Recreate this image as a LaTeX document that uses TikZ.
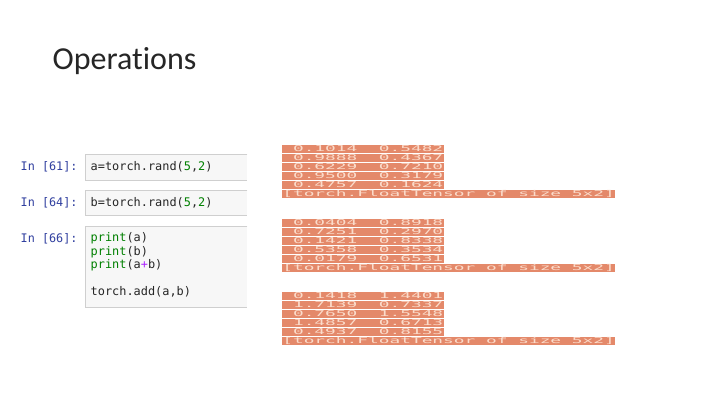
\documentclass[tikz,border=0pt]{standalone}
\usepackage{fontspec}
\usepackage{xcolor}
\usepackage{tikz}
\usetikzlibrary{positioning}
\setmainfont{Carlito}[Ligatures=NoCommon]
\newfontfamily\codefont{DejaVu Sans Mono}
\newfontfamily\outfont[FakeStretch=2.2]{DejaVu Sans Mono}
\definecolor{P1}{HTML}{303F9F}
\definecolor{K1}{HTML}{008000}
\definecolor{O1}{HTML}{AA22FF}
\definecolor{C1}{HTML}{F7F7F7}
\definecolor{C2}{HTML}{CFCFCF}
\definecolor{R1}{HTML}{E4896A}
\definecolor{R2}{HTML}{FBDCCB}

\begin{document}
\begin{tikzpicture}[
	x=1pt, y=-1pt,
	title/.style = {anchor=base west, inner sep=0, font=\fontsize{32}{38}\selectfont, text=black!85},
	prompt/.style = {anchor=west, inner sep=0, font=\codefont\fontsize{11.8}{13.5}\selectfont, text=P1},
	cell/.style = {anchor=north west, rectangle, fill=C1, inner sep=0, minimum width=162},
	code/.style = {inner sep=0, align=left, font=\codefont\fontsize{11.9}{13.5}\selectfont, text=black!85},
	outrow/.style = {anchor=north west, rectangle, fill=R1, text=R2, inner xsep=0.6, inner ysep=0,
	  text height=6.9, text depth=1.5, minimum height=8.4, font=\outfont\fontsize{8.1}{9}\selectfont}
]
  \useasboundingbox[fill=white] (0,0) rectangle (720,405);

  % Title
  \node[title] at (52.5,69.5) (head) {Operations};

  % Input cells
  \node[cell, minimum height=26] at (85,154) (c61) {};
  \node[cell, minimum height=25] at (85,190) (c64) {};
  \node[cell, minimum height=81] at (85,226) (c66) {};
  \draw[C2] (c61.north east) -- (c61.north west) -- (c61.south west) -- (c61.south east);
  \draw[C2] (c64.north east) -- (c64.north west) -- (c64.south west) -- (c64.south east);
  \draw[C2] (c66.north east) -- (c66.north west) -- (c66.south west) -- (c66.south east);

  \node[prompt] at (20.5,167) (p61) {In [61]:};
  \node[prompt] at (20.5,203) (p64) {In [64]:};
  \node[prompt] at (20.5,239) (p66) {In [66]:};

  \node[code, anchor=west] at (90.5,167) (s61) {a=torch.rand(\textcolor{K1}{5},\textcolor{K1}{2})};
  \node[code, anchor=west] at (90.5,203) (s64) {b=torch.rand(\textcolor{K1}{5},\textcolor{K1}{2})};
  \node[code, anchor=north west] at (90.5,232.5) (s66) {\textcolor{K1}{print}(a)\\
    \textcolor{K1}{print}(b)\\
    \textcolor{K1}{print}(a\textcolor{O1}{+}b)\\
    \mbox{}\\
    torch.add(a,b)};

  % Outputs
  \node[outrow] at (281.5,144.7) (a1) {~0.1014~~0.5482};
  \node[outrow] at (281.5,153.7) (a2) {~0.9888~~0.4367};
  \node[outrow] at (281.5,162.7) (a3) {~0.6229~~0.7210};
  \node[outrow] at (281.5,171.7) (a4) {~0.9500~~0.3179};
  \node[outrow] at (281.5,180.7) (a5) {~0.4757~~0.1624};
  \node[outrow] at (281.5,189.7) (a6) {[torch.FloatTensor of size 5x2]};

  \node[outrow] at (281.5,218.3) (b1) {~0.0404~~0.8918};
  \node[outrow] at (281.5,227.3) (b2) {~0.7251~~0.2970};
  \node[outrow] at (281.5,236.3) (b3) {~0.1421~~0.8338};
  \node[outrow] at (281.5,245.3) (b4) {~0.5358~~0.3534};
  \node[outrow] at (281.5,254.3) (b5) {~0.0179~~0.6531};
  \node[outrow] at (281.5,263.3) (b6) {[torch.FloatTensor of size 5x2]};

  \node[outrow] at (281.5,291.7) (s1) {~0.1418~~1.4401};
  \node[outrow] at (281.5,300.7) (s2) {~1.7139~~0.7337};
  \node[outrow] at (281.5,309.7) (s3) {~0.7650~~1.5548};
  \node[outrow] at (281.5,318.7) (s4) {~1.4857~~0.6713};
  \node[outrow] at (281.5,327.7) (s5) {~0.4937~~0.8155};
  \node[outrow] at (281.5,336.7) (s6) {[torch.FloatTensor of size 5x2]};
\end{tikzpicture}
\end{document}
